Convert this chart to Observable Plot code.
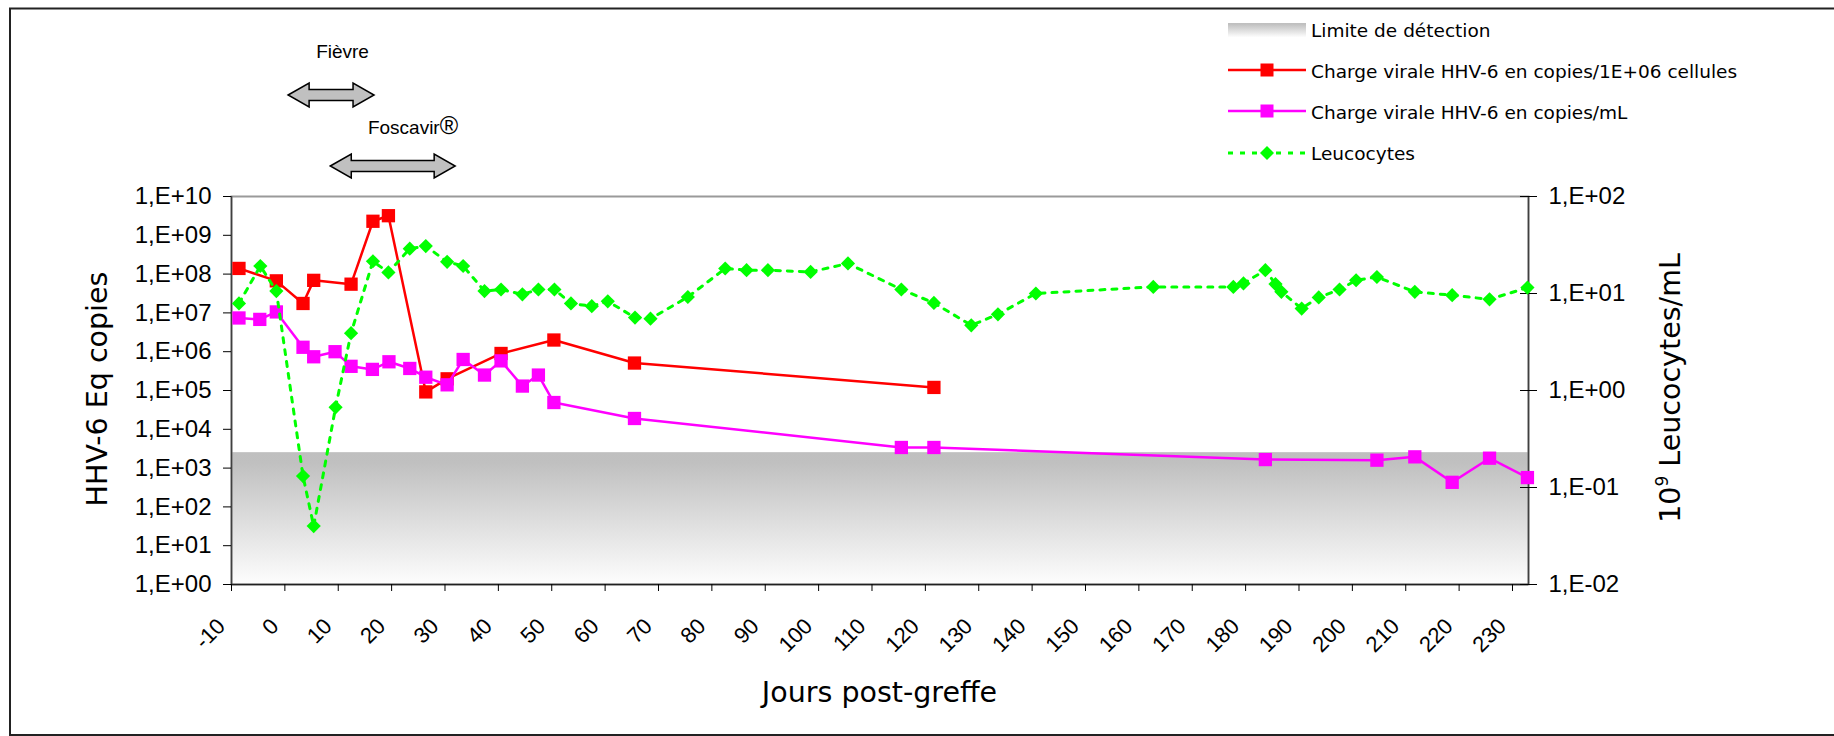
<!DOCTYPE html>
<html>
<head>
<meta charset="utf-8">
<script src="https://cdn.jsdelivr.net/npm/d3@7"></script>
<script src="https://cdn.jsdelivr.net/npm/@observablehq/plot@0.6"></script>
<style>
  html, body { margin: 0; padding: 0; background: #ffffff; }
  svg { display: block; }
</style>
</head>
<body>
<div id="chart"></div>
<script>
// ---------- DATA ----------
const xDomain = [-10, 233];
const xTickValues = [-10, 0, 10, 20, 30, 40, 50, 60, 70, 80, 90, 100, 110, 120, 130, 140, 150, 160, 170, 180, 190, 200, 210, 220, 230];

const leftTickValues = [1, 1e1, 1e2, 1e3, 1e4, 1e5, 1e6, 1e7, 1e8, 1e9, 1e10];
const leftTickLabels = ["1,E+00", "1,E+01", "1,E+02", "1,E+03", "1,E+04", "1,E+05", "1,E+06", "1,E+07", "1,E+08", "1,E+09", "1,E+10"];
const rightTickValues = [0.01, 0.1, 1, 10, 100];
const rightTickLabels = ["1,E-02", "1,E-01", "1,E+00", "1,E+01", "1,E+02"];

const detectionLimit = 2500;

// Charge virale HHV-6 en copies/1E+06 cellules
const redDays = [-8.6, -1.6, 3.4, 5.4, 12.4, 16.5, 19.4, 26.4, 30.4, 40.5, 50.4, 65.5, 121.6];
const redValues = [1.4e8, 6.7e7, 1.75e7, 6.9e7, 5.5e7, 2.3e9, 3.2e9, 9.2e4, 2.0e5, 9.0e5, 2.0e6, 5.1e5, 1.2e5];

// Charge virale HHV-6 en copies/mL
const magentaDays = [-8.6, -4.7, -1.6, 3.4, 5.4, 9.4, 12.4, 16.4, 19.5, 23.4, 26.4, 30.4, 33.4, 37.4, 40.5, 44.5, 47.5, 50.4, 65.5, 115.5, 121.6, 183.7, 204.6, 211.7, 218.7, 225.7, 232.8];
const magentaValues = [7.4e6, 6.8e6, 1.06e7, 1.3e6, 7.4e5, 1.0e6, 4.2e5, 3.5e5, 5.5e5, 3.7e5, 2.2e5, 1.4e5, 6.3e5, 2.5e5, 5.8e5, 1.3e5, 2.5e5, 4.9e4, 1.9e4, 3.4e3, 3.4e3, 1.66e3, 1.6e3, 1.95e3, 4.3e2, 1.8e3, 5.7e2];

// Leucocytes (10^9/mL, right axis)
const greenDays = [-8.6, -4.6, -1.6, 3.4, 5.4, 9.5, 12.4, 16.5, 19.4, 23.4, 26.4, 30.4, 33.4, 37.4, 40.5, 44.5, 47.5, 50.5, 53.6, 57.5, 60.5, 65.6, 68.5, 75.5, 82.5, 86.5, 90.5, 98.5, 105.5, 115.5, 121.6, 128.6, 133.6, 140.7, 162.7, 177.7, 179.6, 183.7, 185.6, 186.7, 190.5, 193.7, 197.6, 200.7, 204.6, 211.7, 218.7, 225.7, 232.8];
const greenValues = [7.9, 19.2, 10.6, 0.131, 0.040, 0.67, 3.9, 21.5, 16.5, 29, 30.8, 21.2, 19.2, 10.6, 11, 9.8, 11, 11, 7.9, 7.4, 8.3, 5.65, 5.5, 9.2, 18.1, 17.4, 17.4, 16.7, 20.4, 11, 8.0, 4.7, 6.1, 10, 11.7, 11.7, 12.7, 17.4, 12.5, 10.4, 7.0, 9.1, 11, 13.7, 14.8, 10.4, 9.6, 8.7, 11.5];

// Annotations (days)
const annotationLabels = ["Fièvre", "Foscavir"];
const annotationSuffix = ["", "®"];
const annotationStart = [0.7, 8.6];
const annotationEnd = [16.8, 32];
const annotationTextDay = [10.9, 24.1];

const legendLabels = ["Limite de détection", "Charge virale HHV-6 en copies/1E+06 cellules", "Charge virale HHV-6 en copies/mL", "Leucocytes"];

const xTitle = "Jours post-greffe";
const yTitleLeft = "HHV-6 Eq copies";
const yTitleRight = ["10", "9", " Leucocytes/mL"];

// ---------- SCALE HELPERS ----------
const leftDomain = [1, 1e10];
const rightDomain = [0.01, 100];
function toLeft(w) {
  const l0 = Math.log10(leftDomain[0]), l1 = Math.log10(leftDomain[1]);
  const r0 = Math.log10(rightDomain[0]), r1 = Math.log10(rightDomain[1]);
  const t = (Math.log10(w) - r0) / (r1 - r0);
  return Math.pow(10, l0 + t * (l1 - l0));
}

const red = redDays.map((d, i) => ({day: d, v: redValues[i]}));
const magenta = magentaDays.map((d, i) => ({day: d, v: magentaValues[i]}));
const green = greenDays.map((d, i) => ({day: d, v: toLeft(greenValues[i])}));
const rightMapped = rightTickValues.map(toLeft);

const tickFont = "'Liberation Sans', Arial, sans-serif";
const titleFont = "'DejaVu Sans', Verdana, sans-serif";

const RED = "#ff0000", MAGENTA = "#ff00ff", GREEN = "#00ff00";

const svg = Plot.plot({
  width: 1834,
  height: 736,
  marginLeft: 231,
  marginRight: 306,
  marginTop: 196,
  marginBottom: 152,
  style: {fontFamily: tickFont, fontSize: "24px", color: "#000", background: "#fff", overflow: "visible"},
  x: {domain: xDomain},
  y: {type: "log", domain: leftDomain},
  marks: [
    Plot.rect([{x1: xDomain[0], x2: xDomain[1], y1: leftDomain[0], y2: detectionLimit}],
      {x1: "x1", x2: "x2", y1: "y1", y2: "y2", fill: "url(#limGrad)"}),
    Plot.frame({stroke: "#9a9a9a", strokeWidth: 2}),
    Plot.ruleX([xDomain[0]], {stroke: "#404040", strokeWidth: 1.5}),
    Plot.ruleX([xDomain[1]], {stroke: "#404040", strokeWidth: 1.5}),
    Plot.ruleY([leftDomain[0]], {stroke: "#202020", strokeWidth: 1.5}),
    // left axis
    Plot.axisY({anchor: "left", ticks: leftTickValues, tickSize: 8, tickPadding: 12,
      tickFormat: d => leftTickLabels[leftTickValues.indexOf(d)], label: null, fontSize: 24}),
    // right axis
    Plot.axisY({anchor: "right", ticks: rightMapped, tickSize: 17, dx: -9, tickPadding: 12,
      tickFormat: d => rightTickLabels[rightMapped.findIndex(v => Math.abs(Math.log10(v) - Math.log10(d)) < 1e-6)],
      label: null, fontSize: 24}),
    // x ticks
    Plot.axisX({ticks: xTickValues, tickSize: 7, fill: "none", label: null}),
    Plot.text(xTickValues, {x: d => d, frameAnchor: "bottom", dy: 38, dx: -10, rotate: -45,
      textAnchor: "end", lineAnchor: "middle", text: d => String(d), fontSize: 22}),
    // series
    Plot.line(red, {x: "day", y: "v", stroke: RED, strokeWidth: 2.5}),
    Plot.dot(red, {x: "day", y: "v", symbol: "square", r: 7.5, fill: RED}),
    Plot.line(magenta, {x: "day", y: "v", stroke: MAGENTA, strokeWidth: 2.5}),
    Plot.dot(magenta, {x: "day", y: "v", symbol: "square", r: 7.5, fill: MAGENTA}),
    Plot.line(green, {x: "day", y: "v", stroke: GREEN, strokeWidth: 3, strokeDasharray: "5,7"}),
    Plot.dot(green, {x: "day", y: "v", symbol: "diamond2", r: 6.4, fill: GREEN})
  ]
});

document.getElementById("chart").appendChild(svg);

const root = d3.select(svg);
const defs = root.insert("defs", ":first-child");
const grad = defs.append("linearGradient").attr("id", "limGrad")
  .attr("x1", 0).attr("y1", 0).attr("x2", 0).attr("y2", 1);
grad.append("stop").attr("offset", "0%").attr("stop-color", "#bfbfbf");
grad.append("stop").attr("offset", "8%").attr("stop-color", "#c0c0c0");
grad.append("stop").attr("offset", "100%").attr("stop-color", "#fdfdfd");

const xs = svg.scale("x");
const ann = root.append("g");

// outer border
ann.append("rect").attr("x", 10).attr("y", 8.5).attr("width", 1840).attr("height", 726.5)
  .attr("fill", "none").attr("stroke", "#222").attr("stroke-width", 2);

// annotation arrows
function dblArrow(x1, x2, cy) {
  const H = 24, S = 11, L = 21;
  return `M${x1},${cy} L${x1 + L},${cy - H / 2} L${x1 + L},${cy - S / 2} L${x2 - L},${cy - S / 2} L${x2 - L},${cy - H / 2} L${x2},${cy} L${x2 - L},${cy + H / 2} L${x2 - L},${cy + S / 2} L${x1 + L},${cy + S / 2} L${x1 + L},${cy + H / 2} Z`;
}
const annTextY = [58, 134];
const annArrowY = [95, 166];
annotationLabels.forEach((lab, i) => {
  const t = ann.append("text").attr("x", xs.apply(annotationTextDay[i])).attr("y", annTextY[i])
    .attr("text-anchor", "middle").attr("font-family", tickFont).attr("font-size", 19)
    .attr("fill", "#000");
  t.append("tspan").text(lab);
  if (annotationSuffix[i]) t.append("tspan").attr("font-size", 25).text(annotationSuffix[i]);
  ann.append("path").attr("d", dblArrow(xs.apply(annotationStart[i]), xs.apply(annotationEnd[i]), annArrowY[i]))
    .attr("fill", "#c0c0c0").attr("stroke", "#000").attr("stroke-width", 1.5).attr("stroke-linejoin", "miter");
});

// axis titles
ann.append("text").attr("x", 879.5).attr("y", 702).attr("text-anchor", "middle")
  .attr("font-family", titleFont).attr("font-size", 28.5).attr("fill", "#000").text(xTitle);
ann.append("text").attr("transform", "translate(107,389) rotate(-90)").attr("text-anchor", "middle")
  .attr("font-family", titleFont).attr("font-size", 28.5).attr("fill", "#000").text(yTitleLeft);
const rt = ann.append("text").attr("transform", "translate(1680,388) rotate(-90)").attr("text-anchor", "middle")
  .attr("font-family", titleFont).attr("font-size", 28.5).attr("fill", "#000");
rt.append("tspan").text(yTitleRight[0]);
rt.append("tspan").attr("font-size", 17).attr("dy", -12).text(yTitleRight[1]);
rt.append("tspan").attr("dy", 12).text(yTitleRight[2]);

// legend
const lg = ann.append("g").attr("font-family", titleFont).attr("font-size", 18.5).attr("fill", "#000")
  .attr("text-anchor", "start");
const legBase = [36.5, 77.5, 118.5, 159.5];
const sx1 = 1228, sx2 = 1306, sxm = 1267, tx = 1311;
lg.append("rect").attr("x", sx1).attr("y", 23).attr("width", sx2 - sx1).attr("height", 14).attr("fill", "url(#limGrad)");
lg.append("line").attr("x1", sx1).attr("x2", sx2).attr("y1", 70).attr("y2", 70).attr("stroke", RED).attr("stroke-width", 2.5);
lg.append("rect").attr("x", sxm - 6.5).attr("y", 70 - 6.5).attr("width", 13).attr("height", 13).attr("fill", RED);
lg.append("line").attr("x1", sx1).attr("x2", sx2).attr("y1", 111).attr("y2", 111).attr("stroke", MAGENTA).attr("stroke-width", 2.5);
lg.append("rect").attr("x", sxm - 6.5).attr("y", 111 - 6.5).attr("width", 13).attr("height", 13).attr("fill", MAGENTA);
lg.append("line").attr("x1", sx1).attr("x2", sx2).attr("y1", 153).attr("y2", 153).attr("stroke", GREEN).attr("stroke-width", 3).attr("stroke-dasharray", "5,7");
lg.append("path").attr("d", `M${sxm},${153 - 7} L${sxm + 7},153 L${sxm},${153 + 7} L${sxm - 7},153 Z`).attr("fill", GREEN);
legendLabels.forEach((lab, i) => {
  lg.append("text").attr("x", tx).attr("y", legBase[i]).attr("text-anchor", "start").text(lab);
});
</script>
</body>
</html>
